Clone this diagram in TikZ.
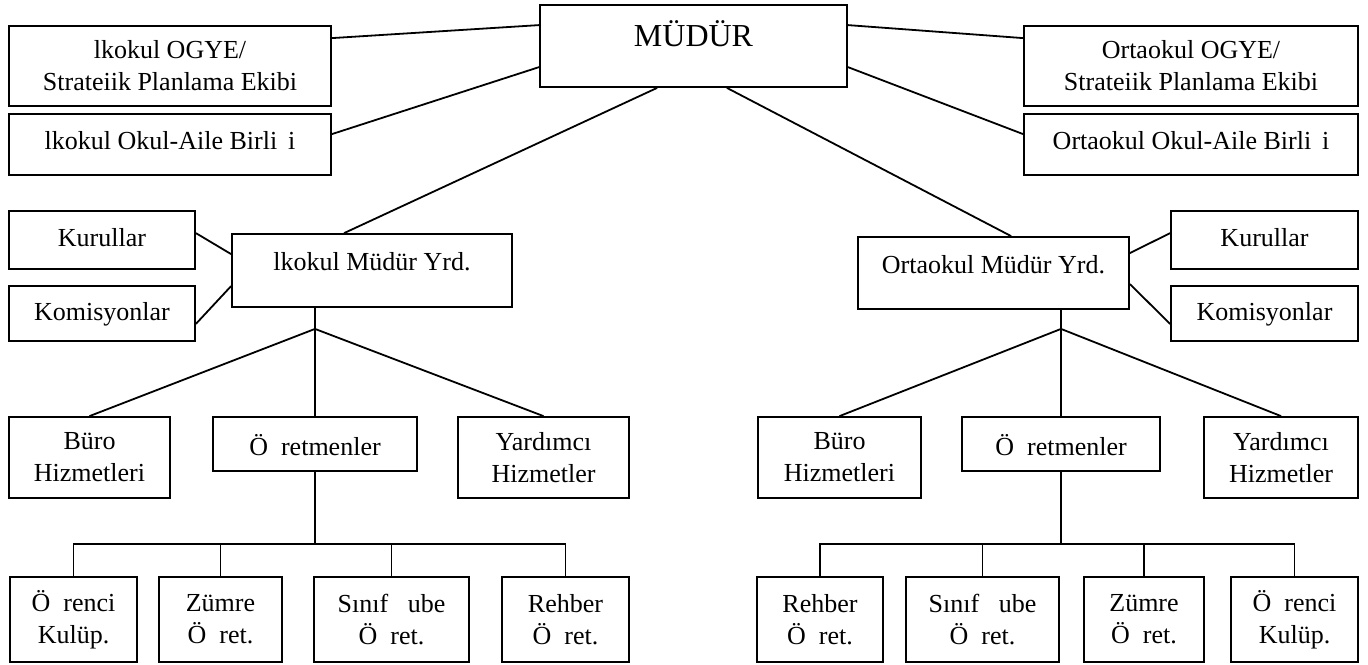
\documentclass[tikz,border=0pt]{standalone}
\usepackage{fontspec}
\setmainfont{Liberation Serif}
\tikzset{
  kutu/.style={draw, line width=0.9pt, inner sep=0pt, align=center, font=\fontsize{13}{16}\selectfont},
  tekkutu/.style={kutu, anchor=base},
  bag/.style={line width=0.9pt},
}
\def\buyuk{\fontsize{16}{19}\selectfont}

\begin{document}
\begin{tikzpicture}[x=0.5pt,y=-0.5pt]
\useasboundingbox (0,0) rectangle (1368,664);
\node[tekkutu, font=\buyuk, minimum width=153.5pt, text height=20.5pt, text depth=20.5pt] (mudur) at (693.5,46) {MÜDÜR};
\node[kutu, minimum width=161pt, minimum height=40pt] (ogyeL) at (170,66) {lkokul OGYE/\\Strateiik Planlama Ekibi};
\node[tekkutu, minimum width=161pt, text height=17.5pt, text depth=13pt] (aileL) at (170,149) {lkokul Okul-Aile Birli\ \,i};
\node[kutu, minimum width=167pt, minimum height=40pt] (ogyeR) at (1191,66) {Ortaokul OGYE/\\Strateiik Planlama Ekibi};
\node[tekkutu, minimum width=167pt, text height=17.5pt, text depth=13pt] (aileR) at (1191,149) {Ortaokul Okul-Aile Birli\ \,i};

\node[tekkutu, minimum width=93pt, text height=17.5pt, text depth=11.5pt] (kurL) at (102,246) {Kurullar};
\node[tekkutu, minimum width=93pt, text height=17pt, text depth=10.5pt] (komL) at (102,320) {Komisyonlar};
\node[tekkutu, minimum width=140pt, text height=18pt, text depth=18.5pt] (yrdL) at (372,270) {lkokul Müdür Yrd.};
\node[tekkutu, minimum width=135.5pt, text height=18pt, text depth=18pt] (yrdR) at (993.5,273) {Ortaokul Müdür Yrd.};
\node[tekkutu, minimum width=93.5pt, text height=17.5pt, text depth=11.5pt] (kurR) at (1264.5,246) {Kurullar};
\node[tekkutu, minimum width=93.5pt, text height=17pt, text depth=10.5pt] (komR) at (1264.5,320) {Komisyonlar};

\node[kutu, minimum width=80.5pt, minimum height=40.5pt] (buroL) at (89.5,457.5) {Büro\\Hizmetleri};
\node[tekkutu, minimum width=102pt, text height=19pt, text depth=8pt] (ogrL) at (315,455) {Ö\ \ retmenler};
\node[kutu, minimum width=85.5pt, minimum height=40.5pt] (yardL) at (543.5,457.5) {Yardımcı\\Hizmetler};
\node[kutu, minimum width=81.5pt, minimum height=40.5pt] (buroR) at (839.5,457.5) {Büro\\Hizmetleri};
\node[tekkutu, minimum width=99pt, text height=19pt, text depth=8pt] (ogrR) at (1061,455) {Ö\ \ retmenler};
\node[kutu, minimum width=77pt, minimum height=40.5pt] (yardR) at (1281,457.5) {Yardımcı\\Hizmetler};

\node[kutu, minimum width=63.5pt, minimum height=42.5pt] (orL) at (73.5,619.5) {Ö\ \ renci\\Kulüp.};
\node[kutu, minimum width=61.5pt, minimum height=42.5pt] (zumL) at (220.5,619.5) {Zümre\\Ö\ \ ret.};
\node[kutu, minimum width=77.5pt, minimum height=42.5pt] (sinL) at (391.5,619.5) {Sınıf\ \ \ ube\\Ö\ \ ret.};
\node[kutu, minimum width=63.5pt, minimum height=42.5pt] (rehL) at (565.5,619.5) {Rehber\\Ö\ \ ret.};
\node[kutu, minimum width=63pt, minimum height=42.5pt] (rehR) at (820,619.5) {Rehber\\Ö\ \ ret.};
\node[kutu, minimum width=76.5pt, minimum height=42.5pt] (sinR) at (982.5,619.5) {Sınıf\ \ \ ube\\Ö\ \ ret.};
\node[kutu, minimum width=60pt, minimum height=42.5pt] (zumR) at (1144,619.5) {Zümre\\Ö\ \ ret.};
\node[kutu, minimum width=63.5pt, minimum height=42.5pt] (orR) at (1294.5,619.5) {Ö\ \ renci\\Kulüp.};

\draw[bag] ([yshift=-6.5pt]ogyeL.north east) -- ([yshift=-10.5pt]mudur.north west);
\draw[bag] ([yshift=-10.5pt]aileL.north east) -- ([yshift=-31.5pt]mudur.north west);
\draw[bag] ([yshift=-10.5pt]mudur.north east) -- ([yshift=-6.5pt]ogyeR.north west);
\draw[bag] ([yshift=-31.5pt]mudur.north east) -- ([yshift=-10.5pt]aileR.north west);
\draw[bag] ([xshift=59pt]mudur.south west) -- ([xshift=56.5pt]yrdL.north west);
\draw[bag] ([xshift=-60.5pt]mudur.south east) -- ([xshift=77pt]yrdR.north west);

\draw[bag] ([yshift=-11.5pt]kurL.north east) -- ([yshift=-10.5pt]yrdL.north west);
\draw[bag] ([yshift=9pt]komL.south east) -- ([yshift=-26.5pt]yrdL.north west);
\draw[bag] ([yshift=-8.5pt]yrdR.north east) -- ([yshift=-11.5pt]kurR.north west);
\draw[bag] ([yshift=-24pt]yrdR.north east) -- ([yshift=9pt]komR.south west);

\draw[bag] (ogrL.north |- yrdL.south) -- ++(0,21) coordinate (brL);
\draw[bag] (brL) -- (buroL.north) (brL) -- (ogrL.north) (brL) -- (yardL.north);
\draw[bag] (ogrR.north |- yrdR.south) -- ++(0,19) coordinate (brR);
\draw[bag] (brR) -- (buroR.north) (brR) -- (ogrR.north) (brR) -- (yardR.north);

\draw[bag] (ogrL.south) -- ++(0,72) coordinate (busL);
\foreach \k in {orL,zumL,sinL,rehL} \draw[bag] (busL) -| (\k.north);
\draw[bag] (ogrR.south) -- ++(0,72) coordinate (busR);
\foreach \k in {rehR,sinR,zumR,orR} \draw[bag] (busR) -| (\k.north);
\end{tikzpicture}
\end{document}
